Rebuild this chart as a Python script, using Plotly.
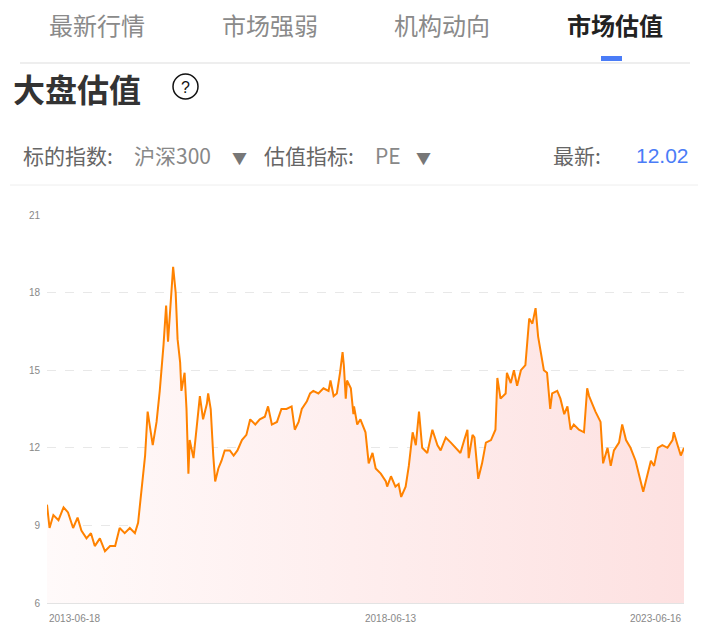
import pandas as pd
import plotly.graph_objects as go

years = [0.00,0.04,0.10,0.18,0.26,0.33,0.41,0.48,0.54,0.62,0.69,0.75,0.83,0.91,0.99,1.07,1.14,1.22,1.30,1.38,1.43,1.49,1.54,1.58,1.62,1.66,1.72,1.77,1.83,1.87,1.90,1.95,1.98,2.02,2.05,2.09,2.11,2.16,2.19,2.22,2.24,2.30,2.35,2.40,2.45,2.51,2.53,2.57,2.61,2.64,2.69,2.74,2.79,2.87,2.93,2.99,3.06,3.13,3.19,3.27,3.34,3.42,3.47,3.53,3.61,3.68,3.76,3.84,3.89,3.95,4.00,4.08,4.13,4.18,4.26,4.34,4.42,4.45,4.50,4.55,4.60,4.64,4.66,4.69,4.71,4.77,4.81,
 4.82,4.87,4.92,5.00,5.05,5.11,5.16,5.24,5.32,5.34,5.40,5.47,5.52,5.56,5.63,5.68,5.74,5.79,5.84,5.89,5.97,6.05,6.13,6.18,6.26,6.34,6.42,6.49,6.55,6.60,6.62,6.68,6.71,6.77,6.83,6.89,6.97,7.04,7.07,7.12,7.20,7.22,7.28,7.33,7.38,7.44,7.51,7.57,7.62,7.67,7.71,7.75,7.80,7.85,7.90,7.93,8.01,8.06,8.12,8.17,8.22,8.27,8.35,8.43,8.48,8.51,8.56,8.61,8.69,8.73,8.80,8.85,8.90,8.98,9.03,9.09,9.16,9.24,9.29,9.36,9.42,9.48,9.53,9.59,9.66,9.74,9.82,9.84,9.90,9.95,10.00]
pe = [9.8,8.9,9.4,9.2,9.7,9.5,8.9,9.3,8.8,8.5,8.7,8.2,8.5,8.0,8.2,8.2,8.9,8.7,8.9,8.7,9.1,10.5,11.7,13.4,12.8,12.1,13.0,14.2,16.0,17.5,16.1,17.8,19.0,18.0,16.2,15.3,14.2,14.9,13.5,11.0,12.3,11.6,12.7,14.0,13.1,13.7,14.1,13.5,11.7,10.7,11.2,11.5,11.9,11.9,11.7,11.9,12.3,12.5,13.1,12.9,13.1,13.2,13.6,12.9,13.0,13.5,13.5,13.6,12.7,13.0,13.5,13.8,14.1,14.2,14.1,14.3,14.2,14.6,14.0,14.1,14.9,15.7,15.2,13.9,14.6,14.3,13.3,
 13.6,12.9,13.1,12.6,11.4,11.8,11.2,11.0,10.7,10.5,10.9,10.5,10.6,10.1,10.5,11.3,12.6,12.1,13.4,12.0,11.8,12.7,12.1,11.9,12.4,12.2,12.0,11.8,12.3,12.7,11.6,12.5,12.4,10.8,11.4,12.2,12.3,12.7,14.7,13.9,14.1,14.9,14.5,15.0,14.4,15.0,15.2,17.0,16.8,17.4,16.3,15.7,15.0,14.9,13.5,14.1,14.2,13.9,13.3,13.6,12.7,12.9,12.7,12.6,14.3,14.0,13.7,13.4,13.0,11.4,12.0,11.3,11.9,12.2,12.9,12.3,12.0,11.5,11.0,10.3,10.9,11.5,11.3,12.0,12.1,12.0,12.3,12.6,12.1,11.7,12.0]
tabs = ["最新行情", "市场强弱", "机构动向", "市场估值"]
date_labels = ["2013-06-18", "2018-06-13", "2023-06-16"]
y_ticks = [6, 9, 12, 15, 18, 21]

start = pd.Timestamp("2013-06-18"); end = pd.Timestamp("2023-06-16")
dates = [start + (end - start) * (y / 10.0) for y in years]

fig = go.Figure(go.Scatter(
    x=dates, y=pe, mode="lines", line=dict(color="#ff8200", width=2),
    fill="tozeroy",
    fillgradient=dict(type="horizontal", colorscale=[[0, "rgba(255,250,250,1)"], [1, "rgba(253,225,225,1)"]]),
    hoverinfo="skip"))

F = "Noto Sans CJK SC"
fig.update_layout(
    width=700, height=625, margin=dict(l=39, r=24, t=207, b=30),
    paper_bgcolor="white", plot_bgcolor="white", showlegend=False,
    font=dict(family=F),
    xaxis=dict(range=[start, end], showgrid=False, showticklabels=False, ticks="",
               showline=True, linecolor="#e3e3e3", zeroline=False, fixedrange=True),
    yaxis=dict(range=[6, 21], tickvals=y_ticks, showgrid=True, gridcolor="#e8e8e8", griddash="dash",
               zeroline=False, tickfont=dict(size=10, color="#888", family="Arial"), ticks="",
               ticklabelstandoff=6),
)
for pos, txt, anc in [(0, date_labels[0], "left"), (0.54, date_labels[1], "center"), (1, date_labels[2], "right")]:
    fig.add_annotation(xref="paper", yref="paper", x=pos, y=-0.02, yanchor="top", xanchor=anc,
                       text=txt, showarrow=False, font=dict(size=10, color="#888", family="Arial"))

def px(x): return (x - 47) / 637
def py(y): return (603 - y) / 388

def ann(x, y, text, size, color, anchor="left", bold=False, fam=F):
    fig.add_annotation(xref="paper", yref="paper", x=px(x), y=py(y),
                       text=f"<b>{text}</b>" if bold else text, showarrow=False, xanchor=anchor,
                       yanchor="middle", borderpad=0, font=dict(size=size, color=color, family=fam))

tab_x = [97, 270, 442, 615]
for i, t in enumerate(tabs):
    ann(tab_x[i], 24, t, 24, "#222" if i == 3 else "#8a8a8a", "center", bold=(i == 3))
ann(12, 88, "大盘估值", 32, "#333", bold=True)
ann(22, 155, "标的指数:", 21, "#666")
ann(133, 155, "沪深300", 21, "#888")
ann(231, 157, "▼", 15, "#777")
ann(263, 155, "估值指标:", 21, "#666")
ann(374, 155, "PE", 21, "#888")
ann(415, 157, "▼", 15, "#777")
ann(552, 155, "最新:", 21, "#666")
ann(690, 155, "12.02", 21, "#4a7cf7", "right", fam="Arial")
ann(185, 87, "?", 16, "#111", "center", fam="Arial")

def shape(**kw):
    fig.add_shape(xref="paper", yref="paper", **kw)
shape(type="circle", x0=px(173), x1=px(198), y0=py(99), y1=py(74), line=dict(color="#111", width=1.5))
shape(type="line", x0=px(20), x1=px(690), y0=py(63), y1=py(63), line=dict(color="#ddd", width=1))
shape(type="line", x0=px(10), x1=px(698), y0=py(185), y1=py(185), line=dict(color="#eee", width=1))
shape(type="rect", x0=px(601), x1=px(622), y0=py(61), y1=py(56), fillcolor="#4a7cf7", line=dict(width=0))

fig.write_html("out.html")
